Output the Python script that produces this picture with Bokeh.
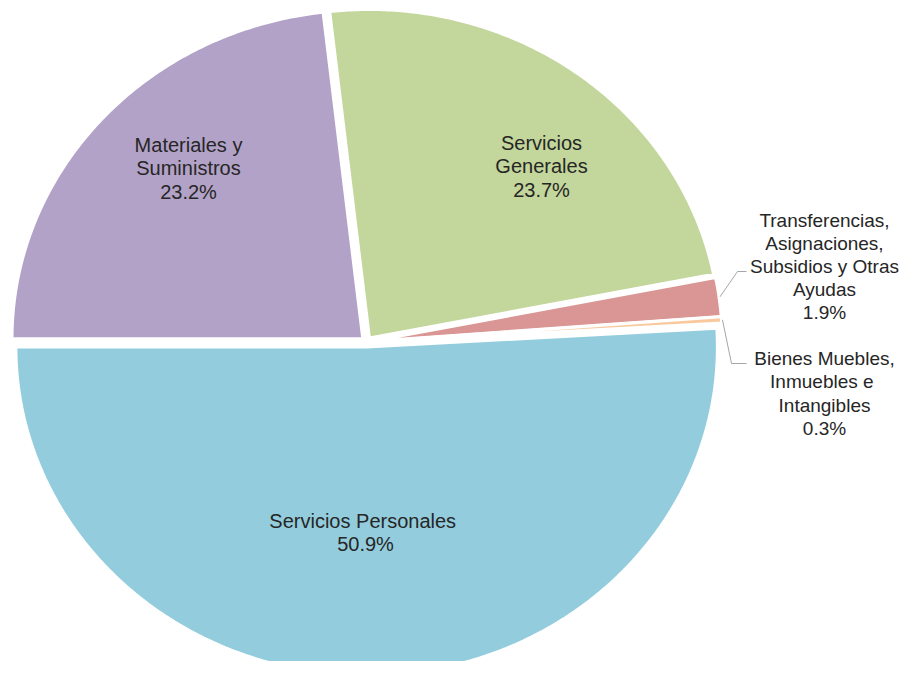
import numpy as np
from bokeh.plotting import figure
from bokeh.models import ColumnDataSource, Range1d
from bokeh.core.properties import value
from bokeh.embed import file_html
from bokeh.resources import INLINE

# ---- data (clockwise from the top) ----
categories = ["Servicios Generales",
              "Transferencias, Asignaciones, Subsidios y Otras Ayudas",
              "Bienes Muebles, Inmuebles e Intangibles",
              "Servicios Personales",
              "Materiales y Suministros"]
shares = [23.7, 1.9, 0.3, 50.9, 23.2]
label_texts = ["Servicios\nGenerales\n23.7%",
               "Transferencias,\nAsignaciones,\nSubsidios y Otras\nAyudas\n1.9%",
               "Bienes Muebles,\nInmuebles  e\nIntangibles\n0.3%",
               "Servicios  Personales\n50.9%",
               "Materiales y\nSuministros\n23.2%"]
colors = ["#c3d69b", "#d99694", "#f9c89c", "#93cddd", "#b3a2c7"]

# ---- layout ----
W, H = 902, 661
CX, CY = 366.0, 341.5      # pie centre (pixels of the picture)
RX, RY = 350.75, 328.5     # pie radii (picture is slightly stretched)
START = 96.5               # degrees, first slice starts here, goes clockwise
EXPLODE = 5.0
inside = [0, 3, 4]
outside = [1, 2]
label_x = [541, 824, 824, 365, 188]
label_y = [166, 266, 393, 532, 168]
text_col = "#262626"

p = figure(width=W, height=H, output_backend="svg", toolbar_location=None,
           x_range=Range1d(0, W), y_range=Range1d(H, 0),
           min_border=0)
p.axis.visible = False
p.grid.visible = False
p.outline_line_color = None
p.background_fill_color = "white"

vals = np.array(shares, dtype=float)
fr = vals / vals.sum()
ends = START - 360.0 * np.cumsum(fr)
starts = np.concatenate([[START], ends[:-1]])

xs, ys, mids = [], [], []
for a0, a1 in zip(starts, ends):
    mid = np.radians((a0 + a1) / 2)
    mids.append(mid)
    ox = CX + EXPLODE * np.cos(mid)
    oy = CY - EXPLODE * np.sin(mid)
    t = np.radians(np.linspace(a0, a1, max(int(abs(a0 - a1) * 2), 6)))
    px = np.concatenate([[ox], ox + RX * np.cos(t), [ox]])
    py = np.concatenate([[oy], oy - RY * np.sin(t), [oy]])
    xs.append(list(px))
    ys.append(list(py))

src = ColumnDataSource(dict(xs=xs, ys=ys, color=colors, name=categories))
p.patches("xs", "ys", source=src, fill_color="color", line_color="white",
          line_width=3)

# leader lines for the two small outside slices
elbows = {1: (737, 271, 746), 2: (731, 363, 746)}
for i, (ex, ey, endx) in elbows.items():
    m = mids[i]
    sx = CX + (RX + EXPLODE + 1) * np.cos(m)
    sy = CY - (RY + EXPLODE + 1) * np.sin(m)
    p.line([sx, ex, endx], [sy, ey, ey], line_color="#a6a6a6", line_width=1)

p.text(x=[label_x[i] for i in inside], y=[label_y[i] for i in inside],
       text=[label_texts[i] for i in inside], text_align="center",
       text_baseline="middle", text_font=value("Liberation Sans"),
       text_font_size="20px", text_color=text_col, text_line_height=1.05)
p.text(x=[label_x[i] for i in outside], y=[label_y[i] for i in outside],
       text=[label_texts[i] for i in outside], text_align="center",
       text_baseline="middle", text_font=value("Liberation Sans"),
       text_font_size="19px", text_color=text_col, text_line_height=1.1)

open("out.html", "w").write(file_html(p, INLINE))
